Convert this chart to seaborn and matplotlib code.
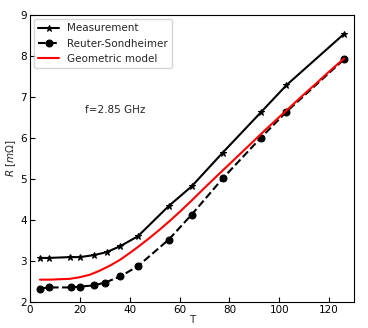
import pandas as pd
import seaborn as sns
import matplotlib
matplotlib.use("Agg")
import matplotlib.pyplot as plt

# measured surface resistance vs temperature
T_meas = [4.0, 7.6, 16.0, 20.0, 25.7, 30.7, 36.3, 43.3, 55.7, 64.9, 77.3, 92.7, 102.9, 126.0]
R_meas = [3.07, 3.07, 3.09, 3.09, 3.14, 3.21, 3.36, 3.60, 4.34, 4.82, 5.64, 6.63, 7.29, 8.54]

# Reuter-Sondheimer model points
T_rs = [4.0, 7.6, 16.4, 20.0, 25.7, 30.2, 36.3, 43.3, 55.7, 64.9, 77.3, 92.7, 102.9, 126.0]
R_rs = [2.32, 2.35, 2.35, 2.37, 2.40, 2.47, 2.62, 2.87, 3.52, 4.13, 5.01, 6.01, 6.64, 7.92]

# geometric model curve
T_geo = [4, 8, 12, 16, 20, 24, 28, 32, 36, 40, 44, 48, 52, 56, 60, 65, 70, 76, 80, 85,
         90, 95, 100, 105, 110, 115, 120, 126]
R_geo = [2.54, 2.54, 2.55, 2.56, 2.60, 2.66, 2.76, 2.88, 3.02, 3.19, 3.37, 3.56, 3.76, 3.97,
         4.19, 4.48, 4.78, 5.13, 5.36, 5.65, 5.94, 6.23, 6.51, 6.79, 7.07, 7.34, 7.62, 7.94]

meas = pd.DataFrame({"T": T_meas, "R": R_meas})
rs = pd.DataFrame({"T": T_rs, "R": R_rs})
geo = pd.DataFrame({"T": T_geo, "R": R_geo})

sns.set_style("white")
plt.rcParams["font.family"] = ["DejaVu Sans"]

fig = plt.figure(figsize=(3.68, 3.28), dpi=100)
ax = fig.add_axes([0.0815, 0.080, 0.8805, 0.874])

sns.lineplot(data=meas, x="T", y="R", ax=ax, color="black", marker="*", markersize=5,
             markeredgecolor="black", linewidth=1.5, label="Measurement")
sns.lineplot(data=rs, x="T", y="R", ax=ax, color="black", marker="o", markersize=5,
             markeredgecolor="black", linewidth=1.5, linestyle="--", label="Reuter-Sondheimer")
sns.lineplot(data=geo, x="T", y="R", ax=ax, color="red", linewidth=1.5, label="Geometric model")

ax.text(22, 6.6, "f=2.85 GHz", fontsize=7.5)

ax.set_xlim(0, 130)
ax.set_ylim(2, 9)
ax.set_xticks([0, 20, 40, 60, 80, 100, 120])
ax.set_yticks([2, 3, 4, 5, 6, 7, 8, 9])
ax.tick_params(direction="in", length=3.5, width=0.8, labelsize=7.5, colors="black",
               bottom=True, left=True, top=False, right=False, pad=2)
for s in ax.spines.values():
    s.set_color("black")
    s.set_linewidth(0.8)

ax.set_xlabel("T", fontsize=7.5, labelpad=0)
ax.set_ylabel(r"$R$ [$m\Omega$]", fontsize=7.5, labelpad=2)

ax.legend(loc="upper left", fontsize=7.5, frameon=True, framealpha=0.8,
          edgecolor="#cccccc", borderaxespad=0.4, handlelength=2.0)

fig.savefig("out.png", dpi=100)
